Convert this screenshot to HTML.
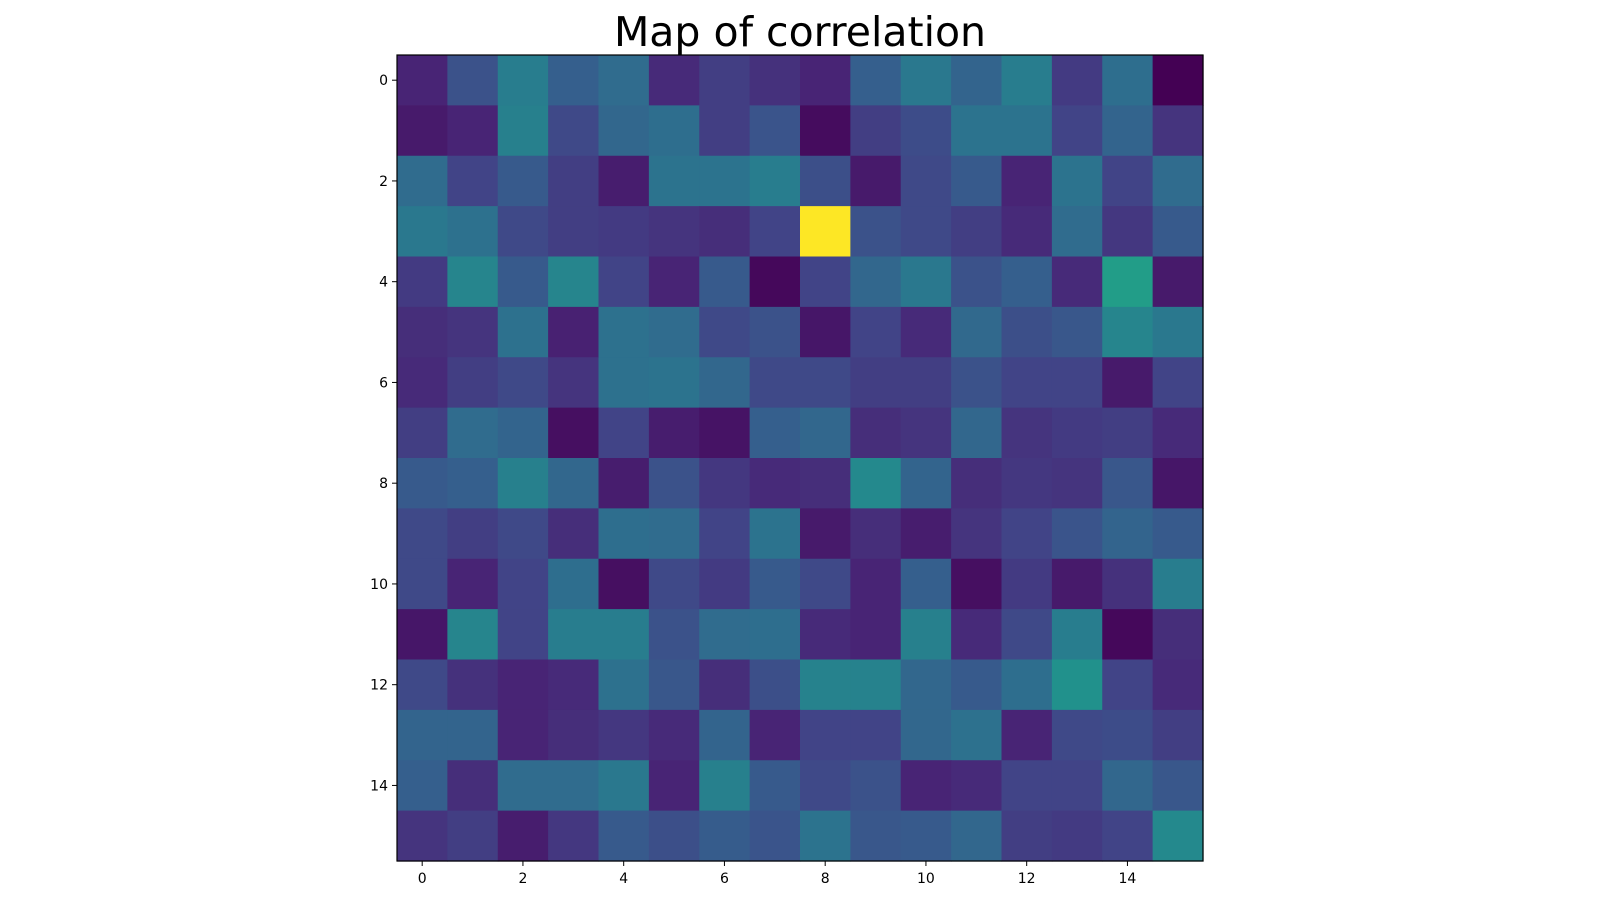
<!DOCTYPE html>
<html><head><meta charset="utf-8"><style>
body{margin:0;background:#fff;width:1600px;height:900px;overflow:hidden;font-family:"DejaVu Sans","Liberation Sans",sans-serif}
</style></head><body>
<svg id="chart" width="1600" height="900" xmlns="http://www.w3.org/2000/svg">
<text x="800" y="46" text-anchor="middle" font-size="41" font-family="DejaVu Sans, sans-serif" fill="#000">Map of correlation</text>
<g id="cells"></g><g id="axes"></g>
</svg>
<script>
const rows = [
[0.1,0.25,0.42,0.3,0.35,0.12,0.18,0.14,0.1,0.3,0.4,0.32,0.42,0.17,0.36,0.0],
[0.07,0.1,0.43,0.22,0.33,0.36,0.18,0.26,0.03,0.18,0.23,0.38,0.38,0.2,0.32,0.15],
[0.35,0.2,0.28,0.18,0.08,0.38,0.38,0.42,0.24,0.07,0.22,0.28,0.1,0.38,0.2,0.35],
[0.4,0.37,0.22,0.18,0.17,0.15,0.13,0.2,1.0,0.25,0.22,0.18,0.12,0.35,0.16,0.28],
[0.17,0.45,0.28,0.45,0.2,0.1,0.28,0.02,0.2,0.33,0.4,0.25,0.3,0.12,0.55,0.07],
[0.13,0.15,0.37,0.09,0.37,0.35,0.22,0.25,0.06,0.2,0.12,0.34,0.24,0.27,0.45,0.4],
[0.12,0.18,0.22,0.15,0.37,0.38,0.33,0.22,0.22,0.18,0.18,0.25,0.2,0.2,0.07,0.2],
[0.18,0.35,0.32,0.04,0.2,0.08,0.05,0.3,0.33,0.13,0.15,0.33,0.15,0.17,0.18,0.12],
[0.28,0.3,0.43,0.33,0.08,0.25,0.16,0.12,0.13,0.47,0.32,0.13,0.16,0.15,0.27,0.06],
[0.22,0.18,0.22,0.13,0.36,0.35,0.2,0.38,0.07,0.13,0.08,0.15,0.2,0.26,0.32,0.28],
[0.22,0.1,0.2,0.36,0.04,0.22,0.17,0.28,0.22,0.1,0.3,0.04,0.17,0.07,0.14,0.42],
[0.06,0.45,0.2,0.42,0.42,0.25,0.35,0.36,0.12,0.1,0.43,0.12,0.22,0.42,0.02,0.13],
[0.22,0.14,0.1,0.12,0.37,0.27,0.13,0.24,0.44,0.44,0.33,0.28,0.36,0.5,0.2,0.12],
[0.32,0.32,0.1,0.13,0.16,0.12,0.32,0.1,0.2,0.2,0.33,0.37,0.1,0.22,0.23,0.18],
[0.3,0.13,0.35,0.35,0.4,0.1,0.43,0.28,0.22,0.25,0.1,0.12,0.2,0.2,0.33,0.27],
[0.15,0.18,0.08,0.16,0.28,0.24,0.29,0.26,0.38,0.27,0.28,0.33,0.18,0.17,0.2,0.47]
];
const xTicks = [0,2,4,6,8,10,12,14];
const yTicks = [0,2,4,6,8,10,12,14];
const L=397,T=55,S=806,N=16,C=S/N;
const xs=i=>L+i*C, ys=j=>T+j*C;
const vir=[[68,1,84],[72,36,117],[65,68,135],[53,95,141],[42,120,142],[33,145,140],[34,168,132],[68,191,112],[122,209,81],[189,223,38],[253,231,37]];
function col(v){v=Math.max(0,Math.min(1,v))*10;const i=Math.min(9,Math.floor(v)),f=v-i;const a=vir[i],b=vir[i+1];
return `rgb(${a.map((c,k)=>Math.round(c+(b[k]-c)*f)).join(',')})`;}
const ns="http://www.w3.org/2000/svg";
const g=document.getElementById('cells'), ax=document.getElementById('axes');
rows.forEach((r,j)=>r.forEach((v,i)=>{
 const e=document.createElementNS(ns,'rect');
 e.setAttribute('x',xs(i));e.setAttribute('y',ys(j));e.setAttribute('width',C+0.6);e.setAttribute('height',C+0.6);
 e.setAttribute('fill',col(v));
 
 
 g.appendChild(e);}));
const fr=document.createElementNS(ns,'rect');
fr.setAttribute('x',L);fr.setAttribute('y',T);fr.setAttribute('width',S);fr.setAttribute('height',S);
fr.setAttribute('fill','none');fr.setAttribute('stroke','#000');fr.setAttribute('stroke-width','1.2');


ax.appendChild(fr);
function mk(tag,attrs){const e=document.createElementNS(ns,tag);for(const k in attrs)e.setAttribute(k,attrs[k]);ax.appendChild(e);return e;}
xTicks.forEach(t=>{const x=xs(t)+C/2;
 const l=mk('line',{x1:x,x2:x,y1:T+S,y2:T+S+5,stroke:'#000','stroke-width':1});
 
 
 const tx=mk('text',{x:x,y:T+S+22,'text-anchor':'middle','font-size':14,fill:'#000'});tx.textContent=t;
 
 });
yTicks.forEach(t=>{const y=ys(t)+C/2;
 const l=mk('line',{x1:L-5,x2:L,y1:y,y2:y,stroke:'#000','stroke-width':1});
 
 
 const tx=mk('text',{x:L-9,y:y+5,'text-anchor':'end','font-size':14,fill:'#000'});tx.textContent=t;
 
 });
</script>
</body></html>
